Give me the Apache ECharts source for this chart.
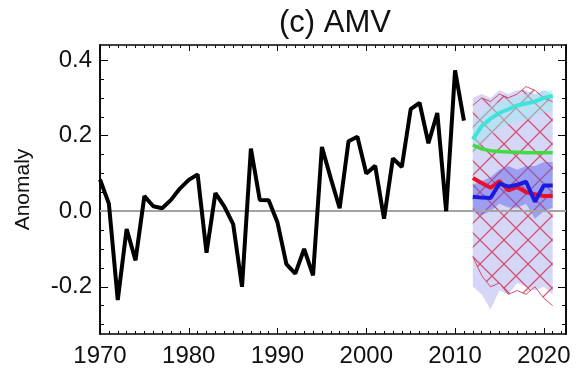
<!DOCTYPE html>
<html>
<head>
<meta charset="utf-8">
<script src="https://cdn.jsdelivr.net/npm/echarts@6/dist/echarts.min.js"></script>
<style>
  html, body { margin: 0; padding: 0; background: #fff; }
  #chart { width: 578px; height: 371px; }
</style>
</head>
<body>
<div id="chart"></div>
<script>
// observed AMV index, 1970-2011
const obsYears = [
  1970, 1971, 1972, 1973, 1974, 1975, 1976, 1977, 1978, 1979,
  1980, 1981, 1982, 1983, 1984, 1985, 1986, 1987, 1988, 1989,
  1990, 1991, 1992, 1993, 1994, 1995, 1996, 1997, 1998, 1999,
  2000, 2001, 2002, 2003, 2004, 2005, 2006, 2007, 2008, 2009,
  2010, 2011
];
const obsValues = [
  0.084, 0.02, -0.235, -0.047, -0.13, 0.04, 0.013, 0.008, 0.03, 0.06,
  0.083, 0.097, -0.11, 0.048, 0.013, -0.034, -0.2, 0.166, 0.03, 0.029,
  -0.03, -0.14, -0.165, -0.1, -0.17, 0.17, 0.087, 0.008, 0.185, 0.197,
  0.1, 0.12, -0.02, 0.14, 0.117, 0.27, 0.287, 0.18, 0.26, 0.0,
  0.373, 0.24
];

// forecast period
const projYears = [2012, 2013, 2014, 2015, 2016, 2017, 2018, 2019, 2020, 2021];
const cyanLine  = [0.19, 0.225, 0.245, 0.26, 0.27, 0.28, 0.285, 0.29, 0.30, 0.305];
const greenLine = [0.175, 0.165, 0.16, 0.158, 0.157, 0.156, 0.155, 0.155, 0.155, 0.155];
const redLine   = [0.088, 0.075, 0.062, 0.08, 0.055, 0.064, 0.05, 0.045, 0.04, 0.04];
const blueLine  = [0.038, 0.036, 0.035, 0.073, 0.065, 0.07, 0.078, 0.025, 0.068, 0.068];

// spreads
const spreadUpper = [0.30, 0.31, 0.30, 0.32, 0.31, 0.32, 0.32, 0.31, 0.32, 0.31];
const spreadLower = [-0.20, -0.22, -0.26, -0.21, -0.22, -0.19, -0.20, -0.21, -0.20, -0.22];
const redUpper    = [0.28, 0.30, 0.29, 0.31, 0.30, 0.31, 0.33, 0.32, 0.30, 0.29];
const redLower    = [-0.12, -0.17, -0.20, -0.19, -0.22, -0.21, -0.22, -0.20, -0.23, -0.25];
const cyanUpper   = [0.23, 0.26, 0.28, 0.29, 0.30, 0.30, 0.31, 0.31, 0.32, 0.32];
const cyanLower   = [0.15, 0.18, 0.20, 0.22, 0.23, 0.24, 0.24, 0.25, 0.26, 0.27];
const blueUpper   = [0.07, 0.08, 0.09, 0.11, 0.12, 0.11, 0.12, 0.12, 0.13, 0.13];
const blueLower   = [0.00, -0.01, 0.00, 0.02, 0.01, 0.01, 0.02, -0.02, 0.00, 0.01];

const yMajorTicks = [-0.2, 0, 0.2, 0.4];
const yMinorTicks = [-0.3, -0.25, -0.15, -0.1, -0.05, 0.05, 0.1, 0.15, 0.25, 0.3, 0.35];

const pair = (xs, ys) => xs.map((x, i) => [x, ys[i]]);

// cross hatch for the red spread
const hatch = document.createElement("canvas");
hatch.width = 24;
hatch.height = 24;
(function () {
  const c = hatch.getContext("2d");
  c.strokeStyle = "rgba(205,40,70,0.75)";
  c.lineWidth = 1.3;
  c.beginPath();
  c.moveTo(0, 0); c.lineTo(24, 24);
  c.moveTo(24, 0); c.lineTo(0, 24);
  c.stroke();
})();

function band(upper, lower, style) {
  return {
    type: "custom",
    z: 2,
    silent: true,
    data: [[projYears[0], upper[0]]],
    renderItem: function (params, api) {
      const pts = [];
      for (let i = 0; i < projYears.length; i++) pts.push(api.coord([projYears[i], upper[i]]));
      for (let i = projYears.length - 1; i >= 0; i--) pts.push(api.coord([projYears[i], lower[i]]));
      return { type: "polygon", shape: { points: pts }, style: style };
    },
  };
}

function projLine(values, color, width, z) {
  return {
    type: "line",
    z: z,
    data: pair(projYears, values),
    showSymbol: false,
    silent: true,
    lineStyle: { color: color, width: width },
  };
}

const FONT = "Liberation Sans";

const xBase = {
  type: "value",
  min: 1970,
  max: 2022.5,
  interval: 10,
  axisLine: { show: true, onZero: false, lineStyle: { color: "#000", width: 1.5 } },
  axisTick: { show: true, inside: true, length: 6, lineStyle: { color: "#000", width: 1 } },
  minorTick: { show: true, splitNumber: 10, length: 3, lineStyle: { color: "#000", width: 1 } },
  splitLine: { show: false },
};

function yAxis(position, ticks, len, labels) {
  return {
    type: "value",
    position: position,
    min: -0.325,
    max: 0.44,
    axisLine: { show: true, onZero: false, lineStyle: { color: "#000", width: 1.5 } },
    axisTick: { show: true, inside: true, length: len, customValues: ticks, lineStyle: { color: "#000", width: 1 } },
    axisLabel: labels
      ? { show: true, customValues: ticks, margin: 8, fontFamily: FONT, fontSize: 24, color: "#111",
          formatter: (v) => v.toFixed(1) }
      : { show: false },
    splitLine: { show: false },
  };
}

const chart = echarts.init(document.getElementById("chart"), null, { renderer: "canvas" });

chart.setOption({
  animation: false,
  backgroundColor: "#fff",
  title: {
    text: "(c) AMV",
    left: 274,
    top: 3,
    textStyle: { fontFamily: FONT, fontSize: 31, fontWeight: "normal", color: "#111" },
  },
  grid: { left: 100, right: 12, top: 45, bottom: 37 },
  xAxis: [
    Object.assign({}, xBase, {
      position: "bottom",
      axisLabel: { show: true, margin: 10, fontFamily: FONT, fontSize: 24, color: "#111",
        showMaxLabel: false, formatter: (v) => String(v) },
    }),
    Object.assign({}, xBase, { position: "top", axisLabel: { show: false } }),
  ],
  yAxis: [
    Object.assign(yAxis("left", yMajorTicks, 8, true), {
      name: "Anomaly",
      nameLocation: "middle",
      nameRotate: 90,
      nameGap: 66,
      nameTextStyle: { fontFamily: FONT, fontSize: 21, color: "#111" },
    }),
    yAxis("left", yMinorTicks, 4, false),
    yAxis("right", yMajorTicks, 8, false),
    yAxis("right", yMinorTicks, 4, false),
  ],
  series: [
    band(spreadUpper, spreadLower, { fill: "rgba(180,180,240,0.55)" }),
    band(redUpper, redLower, { fill: { image: hatch, repeat: "repeat" } }),
    projLine(redUpper, "rgba(205,40,70,0.8)", 1, 3),
    projLine(redLower, "rgba(205,40,70,0.8)", 1, 3),
    band(cyanUpper, cyanLower, { fill: "rgba(150,240,240,0.45)" }),
    band(blueUpper, blueLower, { fill: "rgba(90,90,230,0.45)" }),
    projLine(cyanLine, "#3fe3d8", 4, 5),
    projLine(greenLine, "#3fdc3f", 3.5, 5),
    projLine(redLine, "#e8102a", 4, 6),
    projLine(blueLine, "#1a1ae0", 4, 6),
    {
      type: "line",
      z: 7,
      data: pair(obsYears, obsValues),
      showSymbol: false,
      silent: true,
      lineStyle: { color: "#000", width: 4 },
      markLine: {
        z: 4,
        silent: true,
        symbol: "none",
        label: { show: false },
        lineStyle: { color: "#a3a3a3", width: 2, type: "solid" },
        data: [{ yAxis: 0 }],
      },
    },
  ],
});
</script>
</body>
</html>
